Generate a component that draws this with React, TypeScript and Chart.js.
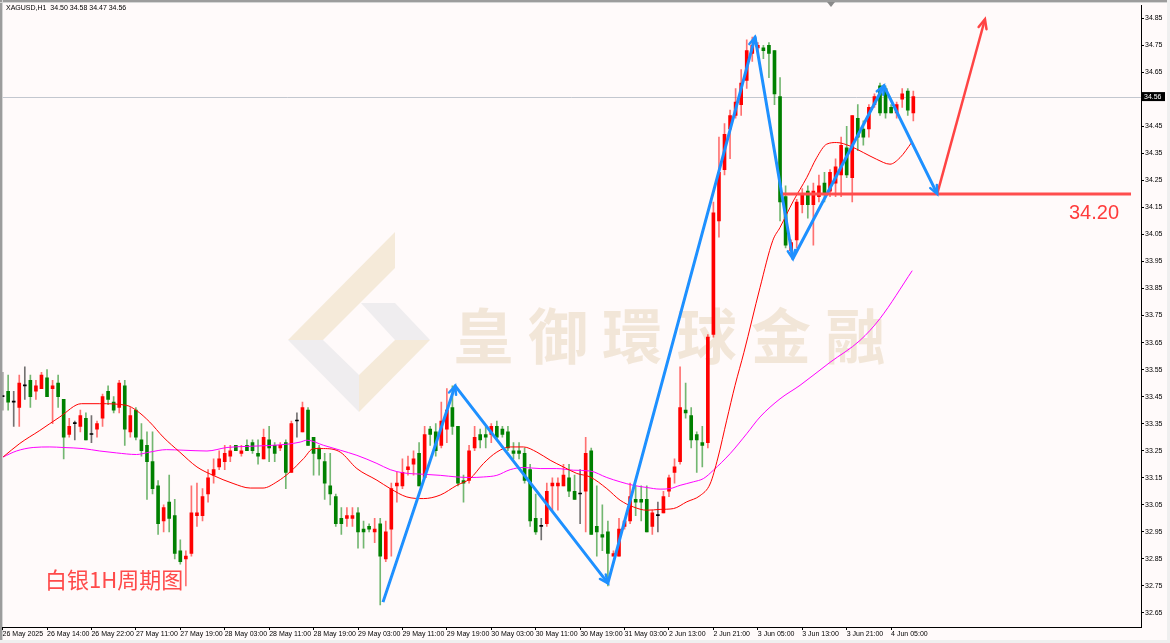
import React, { useEffect, useRef } from 'react';
import { Chart, registerables } from 'chart.js';

Chart.register(...registerables);

// ---------- data ----------
const symbolTitle = 'XAGUSD,H1  34.50 34.58 34.47 34.56';

const opens = [
  33.45, 33.47, 33.43, 33.41, 33.49, 33.51, 33.47, 33.48, 33.52, 33.48,
  33.50, 33.44, 33.31, 33.35, 33.34, 33.37, 33.31, 33.33, 33.37, 33.47,
  33.43, 33.41, 33.49, 33.32, 33.40, 33.29, 33.27, 33.21, 33.12, 32.99,
  33.06, 33.01, 32.88, 32.85, 32.87, 33.01, 33.01, 33.09, 33.16, 33.19,
  33.21, 33.23, 33.27, 33.24, 33.27, 33.28, 33.24, 33.22, 33.29, 33.27,
  33.26, 33.28, 33.17, 33.36, 33.32, 33.40, 33.30, 33.26, 33.21, 33.12,
  33.08, 33.00, 33.00, 33.00, 33.02, 32.96, 32.97, 32.95, 32.98, 32.85,
  32.96, 33.12, 33.12, 33.18, 33.20, 33.24, 33.15, 33.33, 33.32, 33.27,
  33.33, 33.41, 33.34, 33.14, 33.14, 33.26, 33.31, 33.31, 33.31, 33.34,
  33.33, 33.32, 33.25, 33.25, 33.24, 33.18, 33.00, 32.97, 32.98, 33.12,
  33.12, 33.12, 33.15, 33.10, 33.09, 33.10, 33.25, 32.97, 32.94, 32.95,
  32.86, 32.86, 32.97, 32.99, 33.07, 33.07, 33.07, 32.97, 33.01, 33.02,
  33.10, 33.17, 33.21, 33.40, 33.38, 33.31, 33.28, 33.28, 33.68, 34.10,
  34.29, 34.44, 34.49, 34.53, 34.62, 34.72, 34.74, 34.74, 34.75, 34.73,
  34.56, 34.19, 33.99, 34.03, 34.16, 34.21, 34.16, 34.19, 34.24, 34.21,
  34.24, 34.27, 34.37, 34.26, 34.48, 34.44, 34.44, 34.53, 34.60, 34.59,
  34.52, 34.50, 34.55, 34.58, 34.50,
];

const highs = [
  33.54, 33.53, 33.47, 33.53, 33.56, 33.53, 33.51, 33.54, 33.55, 33.51,
  33.53, 33.44, 33.37, 33.36, 33.40, 33.39, 33.38, 33.36, 33.46, 33.49,
  33.45, 33.51, 33.51, 33.41, 33.41, 33.35, 33.32, 33.32, 33.14, 33.05,
  33.16, 33.07, 32.92, 32.88, 33.12, 33.13, 33.11, 33.18, 33.22, 33.25,
  33.27, 33.27, 33.27, 33.27, 33.29, 33.29, 33.29, 33.33, 33.34, 33.28,
  33.28, 33.29, 33.36, 33.39, 33.43, 33.41, 33.30, 33.27, 33.24, 33.24,
  33.09, 33.04, 33.04, 33.04, 33.04, 32.99, 32.98, 33.00, 33.00, 32.99,
  33.13, 33.17, 33.22, 33.23, 33.25, 33.28, 33.34, 33.34, 33.35, 33.43,
  33.48, 33.49, 33.34, 33.16, 33.27, 33.34, 33.33, 33.34, 33.35, 33.36,
  33.34, 33.34, 33.28, 33.28, 33.26, 33.20, 33.09, 33.00, 33.13, 33.15,
  33.15, 33.20, 33.20, 33.16, 33.18, 33.30, 33.26, 33.12, 33.05, 32.99,
  32.88, 33.00, 32.99, 33.13, 33.12, 33.12, 33.12, 33.03, 33.06, 33.10,
  33.16, 33.22, 33.56, 33.50, 33.41, 33.32, 33.34, 33.68, 34.17, 34.41,
  34.46, 34.51, 34.59, 34.66, 34.77, 34.78, 34.76, 34.75, 34.76, 34.73,
  34.63, 34.23, 34.03, 34.18, 34.22, 34.23, 34.24, 34.27, 34.28, 34.29,
  34.33, 34.41, 34.45, 34.49, 34.53, 34.47, 34.53, 34.57, 34.61, 34.60,
  34.53, 34.54, 34.59, 34.59, 34.58,
];

const lows = [
  33.40, 33.40, 33.34, 33.34, 33.44, 33.41, 33.44, 33.48, 33.45, 33.35,
  33.41, 33.22, 33.30, 33.29, 33.32, 33.29, 33.28, 33.30, 33.34, 33.42,
  33.39, 33.39, 33.27, 33.30, 33.29, 33.23, 33.07, 33.09, 32.94, 32.95,
  32.95, 32.85, 32.83, 32.75, 32.86, 32.97, 32.99, 33.06, 33.13, 33.18,
  33.18, 33.21, 33.25, 33.23, 33.25, 33.24, 33.20, 33.22, 33.21, 33.21,
  33.25, 33.11, 33.17, 33.30, 33.32, 33.27, 33.16, 33.16, 33.07, 33.05,
  32.97, 32.94, 32.97, 32.97, 32.89, 32.89, 32.95, 32.91, 32.68, 32.84,
  32.86, 33.06, 33.11, 33.16, 33.16, 33.12, 33.15, 33.27, 33.23, 33.26,
  33.28, 33.31, 33.12, 33.06, 33.13, 33.25, 33.26, 33.26, 33.28, 33.29,
  33.30, 33.25, 33.22, 33.22, 33.13, 32.97, 32.94, 32.92, 32.97, 33.03,
  33.03, 33.12, 33.08, 33.07, 32.98, 32.95, 32.94, 32.86, 32.88, 32.75,
  32.86, 32.86, 32.96, 32.98, 33.01, 32.99, 32.95, 32.94, 32.95, 33.02,
  33.08, 33.13, 33.20, 33.37, 33.26, 33.17, 33.19, 33.26, 33.67, 34.04,
  34.27, 34.33, 34.48, 34.49, 34.59, 34.69, 34.73, 34.70, 34.63, 34.53,
  34.10, 34.00, 33.98, 34.00, 34.13, 34.11, 34.01, 34.17, 34.17, 34.19,
  34.19, 34.19, 34.26, 34.17, 34.36, 34.38, 34.41, 34.52, 34.49, 34.48,
  34.50, 34.48, 34.52, 34.49, 34.47,
];

const closes = [
  33.45, 33.43, 33.43, 33.50, 33.49, 33.45, 33.49, 33.53, 33.45, 33.49,
  33.45, 33.30, 33.34, 33.35, 33.38, 33.29, 33.31, 33.35, 33.45, 33.44,
  33.40, 33.50, 33.33, 33.38, 33.30, 33.25, 33.21, 33.11, 32.98, 33.04,
  33.00, 32.87, 32.84, 32.86, 33.02, 33.02, 33.08, 33.15, 33.18, 33.22,
  33.24, 33.25, 33.25, 33.25, 33.25, 33.25, 33.23, 33.30, 33.26, 33.24,
  33.27, 33.17, 33.35, 33.36, 33.41, 33.27, 33.24, 33.22, 33.13, 33.09,
  32.98, 32.98, 33.01, 33.01, 32.95, 32.95, 32.96, 32.96, 32.86, 32.95,
  33.11, 33.13, 33.17, 33.19, 33.22, 33.12, 33.31, 33.31, 33.25, 33.36,
  33.40, 33.34, 33.13, 33.13, 33.25, 33.30, 33.29, 33.30, 33.34, 33.30,
  33.31, 33.26, 33.24, 33.24, 33.14, 32.99, 32.95, 32.97, 33.10, 33.13,
  33.13, 33.16, 33.10, 33.07, 33.09, 33.24, 32.94, 32.95, 32.93, 32.87,
  32.87, 32.96, 32.99, 33.08, 33.06, 33.06, 32.95, 33.02, 33.01, 33.08,
  33.15, 33.19, 33.41, 33.39, 33.29, 33.29, 33.27, 33.67, 34.13, 34.28,
  34.42, 34.49, 34.54, 34.61, 34.73, 34.75, 34.75, 34.73, 34.72, 34.57,
  34.17, 34.01, 34.02, 34.17, 34.20, 34.16, 34.21, 34.23, 34.20, 34.28,
  34.30, 34.38, 34.27, 34.49, 34.41, 34.41, 34.52, 34.56, 34.50, 34.50,
  34.50, 34.53, 34.57, 34.51, 34.56,
];

// fast (red) moving average, read at bar positions
const maFastBars = [0.1, 3.1, 6.7, 10.3, 14.2, 17.5, 22.3, 24.1, 26.5, 28.9, 31.9, 35.0, 37.9, 41.5, 44.6, 46.9, 49.4, 51.8, 54.2, 56.0, 57.8, 60.8, 63.8, 67.4, 69.8, 72.8, 75.8, 78.8, 81.8, 84.2, 86.6, 89.0, 91.4, 93.8, 96.2, 98.6, 101.0, 103.4, 105.8, 108.8, 111.2, 113.6, 116.0, 118.4, 120.8, 123.2, 125.6, 127.4, 128.8, 130.4, 131.9, 133.5, 136.4, 138.7, 140.0, 142.4, 144.8, 146.6, 148.4, 150.2, 152.6, 155.0, 157.4, 159.8, 161.6, 163.7];
const maFastVals = [33.227, 33.277, 33.325, 33.375, 33.424, 33.424, 33.418, 33.399, 33.356, 33.301, 33.245, 33.19, 33.159, 33.129, 33.112, 33.112, 33.135, 33.172, 33.221, 33.258, 33.258, 33.245, 33.184, 33.141, 33.11, 33.079, 33.073, 33.086, 33.122, 33.147, 33.203, 33.245, 33.264, 33.264, 33.245, 33.215, 33.19, 33.166, 33.153, 33.11, 33.067, 33.042, 33.03, 33.033, 33.036, 33.061, 33.084, 33.127, 33.223, 33.363, 33.492, 33.614, 33.854, 34.028, 34.076, 34.174, 34.26, 34.334, 34.384, 34.39, 34.377, 34.353, 34.328, 34.31, 34.334, 34.39];

// slow (magenta) moving average
const maSlowBars = [0.1, 2.5, 5.5, 8.5, 10.9, 14.5, 17.5, 20.5, 24.1, 26.5, 29.5, 32.5, 36.8, 40.4, 44.0, 47.6, 51.2, 53.6, 54.8, 57.8, 60.8, 63.8, 67.4, 69.8, 72.2, 75.8, 78.8, 81.8, 84.2, 86.6, 89.0, 91.4, 93.8, 96.8, 99.8, 102.8, 105.8, 108.8, 111.2, 113.6, 116.0, 118.4, 120.2, 122.0, 124.4, 126.2, 128.0, 131.0, 134.0, 136.4, 140.0, 143.6, 149.0, 154.4, 158.0, 163.8];
const maSlowVals = [33.227, 33.249, 33.262, 33.264, 33.262, 33.258, 33.249, 33.242, 33.236, 33.245, 33.254, 33.252, 33.249, 33.262, 33.266, 33.269, 33.274, 33.282, 33.289, 33.27, 33.252, 33.233, 33.203, 33.18, 33.168, 33.163, 33.159, 33.153, 33.151, 33.153, 33.159, 33.18, 33.188, 33.184, 33.184, 33.178, 33.175, 33.151, 33.135, 33.122, 33.114, 33.108, 33.11, 33.122, 33.135, 33.147, 33.178, 33.239, 33.313, 33.375, 33.442, 33.492, 33.577, 33.658, 33.739, 33.916];

// blue zig-zag annotation
const zigBars = [68.5, 81.5, 109, 135.5, 142.3, 158.7, 168.3];
const zigVals = [32.69, 33.49, 32.76, 34.78, 33.96, 34.60, 34.20];

// red support level and projected arrow
const levelValue = 34.20;
const levelBars = [140.5, 203.2];
const arrowBars = [168.3, 176.9];
const arrowVals = [34.20, 34.846];

const priceTicks = [32.65, 32.75, 32.85, 32.95, 33.05, 33.15, 33.25, 33.35, 33.45, 33.55, 33.65, 33.75, 33.85, 33.95, 34.05, 34.15, 34.25, 34.35, 34.45, 34.55, 34.65, 34.75, 34.85];

const timeTickBars = [0, 8, 16, 24, 32, 40, 48, 56, 64, 72, 80, 88, 96, 104, 112, 120, 128, 136, 144, 152, 160];
const timeTickLabels = ['26 May 2025', '26 May 14:00', '26 May 22:00', '27 May 11:00', '27 May 19:00', '28 May 03:00', '28 May 11:00', '28 May 19:00', '29 May 03:00', '29 May 11:00', '29 May 19:00', '30 May 03:00', '30 May 11:00', '30 May 19:00', '31 May 03:00', '2 Jun 13:00', '2 Jun 21:00', '3 Jun 05:00', '3 Jun 13:00', '3 Jun 21:00', '4 Jun 05:00'];

const levelText = '34.20';
const captionText = '白银1H周期图';
const watermarkText = '皇御環球金融';

// ---------- helpers ----------
const W = 1170;
const H = 643;
const FONT = '"Liberation Sans", Arial, sans-serif';

const isDoji = (i: number) => opens[i] === closes[i];
const bodyColor = (i: number) => (isDoji(i) ? '#000000' : closes[i] > opens[i] ? '#ff0000' : '#008000');
const wickColor = (i: number) => (isDoji(i) ? 'rgba(0,0,0,0.55)' : closes[i] > opens[i] ? 'rgba(255,0,0,0.55)' : 'rgba(0,128,0,0.55)');

const pairs = (xs: number[], ys: number[]) => xs.map((x, i) => ({ x, y: ys[i] }));

function drawHead(ctx: CanvasRenderingContext2D, ax: number, ay: number, bx: number, by: number, size: number) {
  const ang = Math.atan2(by - ay, bx - ax);
  ctx.beginPath();
  ctx.moveTo(bx - size * Math.cos(ang - 0.42), by - size * Math.sin(ang - 0.42));
  ctx.lineTo(bx, by);
  ctx.lineTo(bx - size * Math.cos(ang + 0.42), by - size * Math.sin(ang + 0.42));
  ctx.stroke();
}

const decorPlugin = {
  id: 'decor',
  beforeDraw(chart: any) {
    const ctx: CanvasRenderingContext2D = chart.ctx;
    ctx.save();
    ctx.fillStyle = '#fffafa';
    ctx.fillRect(0, 0, W, H);
    // window frame
    ctx.fillStyle = '#9c9c9c';
    ctx.fillRect(0, 0, W, 2);
    ctx.fillRect(0, 0, 2, H);
    ctx.fillStyle = '#d6d6d6';
    ctx.fillRect(0, 2, W, 1);
    ctx.fillRect(2, 0, 1, H);
    ctx.fillStyle = '#efefef';
    ctx.fillRect(W - 3, 0, 3, H);
    ctx.fillRect(0, H - 3, W, 3);

    // watermark logo
    const poly = (pts: number[][], color: string) => {
      ctx.fillStyle = color;
      ctx.beginPath();
      ctx.moveTo(pts[0][0], pts[0][1]);
      for (let k = 1; k < pts.length; k++) ctx.lineTo(pts[k][0], pts[k][1]);
      ctx.closePath();
      ctx.fill();
    };
    poly([[395, 232], [395, 268], [323, 340], [288, 340]], '#f5ead9');
    poly([[361, 303], [395, 303], [430, 340], [395, 340]], '#efedef');
    poly([[288, 340], [323, 340], [359, 375], [359, 412]], '#efedef');
    poly([[395, 340], [430, 340], [359, 412], [359, 375]], '#f5ead9');

    // watermark text
    ctx.fillStyle = '#f2e6d8';
    ctx.font = 'bold 60px "Noto Sans CJK TC", "Noto Sans CJK SC", sans-serif';
    ctx.textAlign = 'center';
    ctx.textBaseline = 'middle';
    const chars = Array.from(watermarkText);
    chars.forEach((c, k) => ctx.fillText(c, 483.5 + k * 74.4, 336));
    ctx.restore();
  },
  beforeDatasetsDraw(chart: any) {
    const ctx: CanvasRenderingContext2D = chart.ctx;
    const { left, right } = chart.chartArea;
    const y = Math.round(chart.scales.y.getPixelForValue(closes[closes.length - 1])) + 0.5;
    ctx.save();
    ctx.strokeStyle = '#c3c7cf';
    ctx.lineWidth = 1;
    ctx.beginPath();
    ctx.moveTo(left, y);
    ctx.lineTo(right, y);
    ctx.stroke();
    ctx.restore();
  },
  afterDraw(chart: any) {
    const ctx: CanvasRenderingContext2D = chart.ctx;
    ctx.save();
    // arrow heads
    const zig = chart.getDatasetMeta(4).data;
    ctx.strokeStyle = '#1e90ff';
    ctx.lineWidth = 2.5;
    ctx.lineCap = 'round';
    for (let j = 1; j < zig.length; j++) drawHead(ctx, zig[j - 1].x, zig[j - 1].y, zig[j].x, zig[j].y, 9);
    const arr = chart.getDatasetMeta(6).data;
    ctx.strokeStyle = '#ff4444';
    ctx.lineWidth = 2.5;
    drawHead(ctx, arr[0].x, arr[0].y, arr[1].x, arr[1].y, 10);

    // level text
    ctx.fillStyle = '#ff3b3b';
    ctx.font = '20px ' + FONT;
    ctx.textAlign = 'center';
    ctx.textBaseline = 'middle';
    ctx.fillText(levelText, 1094, 213);

    // caption
    ctx.fillStyle = '#ff4a4a';
    ctx.font = '22px "Noto Sans CJK SC", sans-serif';
    ctx.textAlign = 'left';
    ctx.fillText(captionText, 45, 580);

    // header
    ctx.fillStyle = '#000';
    ctx.font = '7px ' + FONT;
    ctx.textAlign = 'left';
    ctx.fillText(symbolTitle, 6, 8.5);

    // current price tag
    const py = chart.scales.y.getPixelForValue(closes[closes.length - 1]);
    ctx.fillStyle = '#000';
    ctx.fillRect(1142, py - 4.5, 23, 9);
    ctx.fillStyle = '#fff';
    ctx.font = '7px ' + FONT;
    ctx.fillText(closes[closes.length - 1].toFixed(2), 1144, py);

    // shift marker
    ctx.fillStyle = '#8a8a8a';
    ctx.beginPath();
    ctx.moveTo(827, 2);
    ctx.lineTo(835, 2);
    ctx.lineTo(831, 7);
    ctx.closePath();
    ctx.fill();
    ctx.restore();
  },
};

export default function App() {
  const ref = useRef<HTMLCanvasElement | null>(null);

  useEffect(() => {
    document.body.style.margin = '0';
    const idx = opens.map((_, i) => i);
    const chart = new Chart(ref.current as HTMLCanvasElement, {
      type: 'bar',
      data: {
        datasets: [
          {
            label: 'wicks',
            data: idx.map((i) => ({ x: i, y: [lows[i], highs[i]] })) as any,
            backgroundColor: idx.map(wickColor),
            barThickness: 1,
            grouped: false,
            borderWidth: 0,
            order: 10,
          } as any,
          {
            label: 'bodies',
            data: idx.map((i) => ({ x: i, y: [opens[i], closes[i]] })) as any,
            backgroundColor: idx.map(bodyColor),
            barThickness: 3,
            minBarLength: 1,
            grouped: false,
            borderWidth: 0,
            order: 9,
          } as any,
          {
            type: 'line',
            label: 'maSlow',
            data: pairs(maSlowBars, maSlowVals),
            borderColor: '#ff00ff',
            borderWidth: 1,
            pointRadius: 0,
            cubicInterpolationMode: 'monotone',
            order: 6,
          } as any,
          {
            type: 'line',
            label: 'maFast',
            data: pairs(maFastBars, maFastVals),
            borderColor: '#ff0000',
            borderWidth: 1,
            pointRadius: 0,
            cubicInterpolationMode: 'monotone',
            order: 5,
          } as any,
          {
            type: 'line',
            label: 'zigzag',
            data: pairs(zigBars, zigVals),
            borderColor: '#1e90ff',
            borderWidth: 3,
            pointRadius: 0,
            tension: 0,
            borderJoinStyle: 'round',
            order: 2,
          } as any,
          {
            type: 'line',
            label: 'level',
            data: levelBars.map((b) => ({ x: b, y: levelValue })),
            borderColor: '#ff4d4d',
            borderWidth: 3,
            pointRadius: 0,
            order: 1,
          } as any,
          {
            type: 'line',
            label: 'arrow',
            data: pairs(arrowBars, arrowVals),
            borderColor: '#ff4444',
            borderWidth: 2.5,
            pointRadius: 0,
            order: 1,
          } as any,
        ],
      },
      options: {
        responsive: false,
        animation: false,
        devicePixelRatio: 1,
        events: [],
        layout: { padding: { top: 4, left: 2.6, right: 0, bottom: 0 } },
        plugins: { legend: { display: false }, tooltip: { enabled: false } },
        scales: {
          x: {
            type: 'linear',
            min: 0,
            max: 205,
            offset: false,
            afterBuildTicks: (s: any) => {
              s.ticks = timeTickBars.map((v) => ({ value: v }));
            },
            afterFit: (s: any) => {
              s.height = 16;
            },
            ticks: {
              autoSkip: false,
              maxRotation: 0,
              align: 'start',
              padding: 0,
              color: '#000',
              font: { family: FONT, size: 7 },
              callback: (_v: any, i: number) => timeTickLabels[i],
            },
            grid: { drawOnChartArea: false, drawTicks: true, tickLength: 3, color: '#000', offset: false },
            border: { display: true, color: '#000' },
          } as any,
          y: {
            type: 'linear',
            position: 'right',
            min: 32.598,
            max: 34.898,
            afterBuildTicks: (s: any) => {
              s.ticks = priceTicks.map((v) => ({ value: v }));
            },
            afterFit: (s: any) => {
              s.width = 29;
            },
            ticks: {
              autoSkip: false,
              padding: 1,
              color: '#000',
              font: { family: FONT, size: 7 },
              callback: (v: any) => Number(v).toFixed(2),
            },
            grid: { drawOnChartArea: false, drawTicks: true, tickLength: 3, color: '#000' },
            border: { display: true, color: '#000' },
          } as any,
        },
      },
      plugins: [decorPlugin as any],
    } as any);
    return () => chart.destroy();
  }, []);

  return (
    <div style={{ width: W, height: H }}>
      <canvas ref={ref} width={W} height={H} style={{ display: 'block', width: W, height: H }} />
    </div>
  );
}
